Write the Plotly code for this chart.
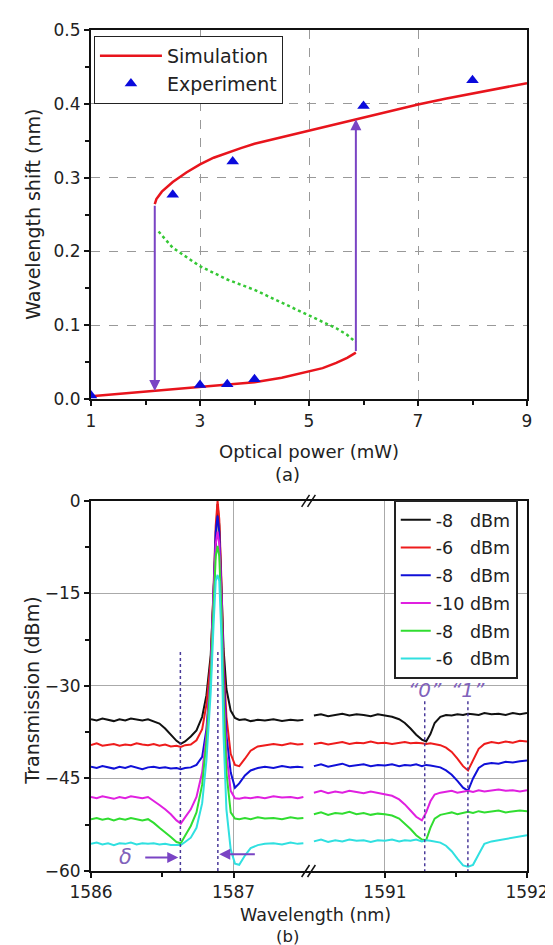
import plotly.graph_objects as go

# ---------------- panel (a) data ----------------
SIM_UP_P = [2.17, 2.2, 2.3, 2.4, 2.5, 2.75, 3.0, 3.25, 3.5, 3.75, 4.0, 4.5, 5.0, 5.5, 6.0, 6.5, 7.0, 7.5, 8.0, 8.5, 9.0]
SIM_UP_S = [0.264, 0.271, 0.281, 0.288, 0.294, 0.307, 0.318, 0.327, 0.334, 0.340, 0.346, 0.355, 0.364, 0.373, 0.382, 0.391, 0.399, 0.407, 0.414, 0.421, 0.428]
SIM_LO_P = [1.0, 1.5, 2.0, 2.5, 3.0, 3.5, 4.0, 4.5, 5.0, 5.25, 5.5, 5.7, 5.86]
SIM_LO_S = [0.004, 0.007, 0.010, 0.013, 0.016, 0.019, 0.023, 0.029, 0.037, 0.042, 0.049, 0.056, 0.063]
UNST_P = [2.24, 2.5, 3.0, 3.5, 4.0, 4.5, 5.0, 5.5, 5.7, 5.86]
UNST_S = [0.227, 0.205, 0.180, 0.162, 0.148, 0.131, 0.114, 0.096, 0.087, 0.077]
EXP_P = [1.0, 2.5, 3.0, 3.5, 3.6, 4.0, 6.0, 8.0]
EXP_S = [0.005, 0.277, 0.019, 0.020, 0.322, 0.027, 0.397, 0.432]
JUMP_P = [2.17, 5.86]
JUMP_FROM = [0.264, 0.063]
JUMP_TO = [0.011, 0.379]

# ---------------- panel (b) data ----------------
LEGEND_B = ["-8\u00a0\u00a0\u00a0dBm", "-6\u00a0\u00a0\u00a0dBm", "-8\u00a0\u00a0\u00a0dBm",
            "-10\u00a0dBm", "-8\u00a0\u00a0\u00a0dBm", "-6\u00a0\u00a0\u00a0dBm"]
COLORS_B = ["#111111", "#ee1c1c", "#1010d8", "#e020e0", "#30dd30", "#30e0e0"]

WL_L = [1586.00, 1586.04, 1586.08, 1586.12, 1586.16, 1586.20, 1586.24, 1586.28, 1586.32, 1586.36,
        1586.40, 1586.44, 1586.48, 1586.52, 1586.56, 1586.60, 1586.63, 1586.66, 1586.70, 1586.74,
        1586.78, 1586.81, 1586.84, 1586.86, 1586.875, 1586.888, 1586.90, 1586.915, 1586.93, 1586.95,
        1586.98, 1587.01, 1587.04, 1587.08, 1587.12, 1587.17, 1587.22, 1587.28, 1587.34, 1587.40,
        1587.45, 1587.49]

T_BLACK_L = [-35.4, -35.6, -35.3, -35.5, -35.7, -35.4, -35.6, -35.3, -35.5, -35.6, -35.4, -35.7, -36.1,
             -36.9, -37.9, -38.9, -39.4, -39.0, -38.2, -37.2, -35.0, -31.5, -25.0, -14.0, -5.0, -0.5,
             -4.0, -14.0, -24.0, -30.5, -34.0, -35.2, -35.5, -35.4, -35.7, -35.5, -35.6, -35.4, -35.7,
             -35.5, -35.6, -35.5]
T_RED_L = [-39.6, -39.3, -39.7, -39.5, -39.4, -39.7, -39.5, -39.6, -39.3, -39.5, -39.6, -39.4, -39.7,
           -39.5, -39.8, -39.7, -39.9, -39.6, -39.5, -38.8, -37.0, -33.0, -26.0, -14.0, -4.0, 0.0,
           -3.0, -13.0, -26.0, -35.0, -41.0, -42.8, -43.0, -41.8, -40.5, -39.8, -39.6, -39.4, -39.6,
           -39.3, -39.5, -39.4]
T_BLUE_L = [-43.1, -43.3, -43.0, -43.2, -43.4, -43.1, -43.3, -43.0, -43.2, -43.5, -43.2, -43.1, -43.3,
            -43.2, -43.4, -43.3, -43.5, -43.3, -43.2, -42.8, -41.5, -37.0, -28.0, -15.0, -5.0, -2.4,
            -5.0, -15.0, -28.0, -38.0, -44.0, -46.5, -45.8, -44.5, -43.7, -43.3, -43.1, -43.3, -43.0,
            -43.2, -43.1, -43.2]
T_MAG_L = [-48.0, -48.2, -47.9, -48.1, -48.3, -48.0, -48.2, -47.9, -48.1, -48.2, -48.0, -48.6, -49.3,
           -50.0, -50.8, -51.8, -52.3, -51.3, -50.0, -48.0, -44.0, -38.0, -28.0, -15.0, -7.0, -5.0,
           -7.0, -16.0, -30.0, -41.0, -47.0, -48.2, -48.3, -48.1, -48.2, -48.0, -48.2, -47.9, -48.1,
           -48.0, -48.2, -48.0]
T_GREEN_L = [-51.6, -51.4, -51.7, -51.5, -51.8, -51.5, -51.7, -51.4, -51.6, -51.8, -51.6, -52.2, -53.0,
             -53.7, -54.5, -55.3, -55.5, -54.3, -52.7, -50.5, -46.0, -39.0, -29.0, -17.0, -9.0, -7.3,
             -9.0, -18.0, -32.0, -44.0, -50.5, -51.5, -51.6, -51.4, -51.6, -51.3, -51.5, -51.4, -51.6,
             -51.3, -51.5, -51.4]
T_CYAN_L = [-55.6, -55.4, -55.7, -55.5, -55.8, -55.5, -55.6, -55.4, -55.7, -55.5, -55.6, -55.5, -55.7,
            -55.6, -55.8, -55.8, -55.8, -55.3, -54.6, -53.0, -49.0, -42.0, -31.0, -20.0, -13.0, -12.0,
            -13.0, -22.0, -38.0, -50.0, -56.5, -58.8, -59.0, -57.5, -56.3, -55.8, -55.6, -55.5, -55.7,
            -55.4, -55.6, -55.5]

WL_R = [1590.50, 1590.55, 1590.60, 1590.65, 1590.70, 1590.75, 1590.80, 1590.85, 1590.90, 1590.95,
        1591.00, 1591.05, 1591.10, 1591.14, 1591.18, 1591.22, 1591.26, 1591.29, 1591.32, 1591.35,
        1591.39, 1591.43, 1591.47, 1591.51, 1591.55, 1591.585, 1591.62, 1591.66, 1591.70, 1591.75,
        1591.80, 1591.85, 1591.90, 1591.95, 1592.00]

T_BLACK_R = [-34.8, -34.6, -34.9, -34.7, -34.5, -34.8, -34.6, -34.7, -34.9, -34.6, -34.8, -35.0, -35.4,
             -36.0, -36.9, -37.9, -38.7, -39.0, -37.8, -36.0, -35.0, -34.7, -34.8, -34.6, -34.7, -34.5,
             -34.6, -34.7, -34.4, -34.6, -34.5, -34.7, -34.4, -34.6, -34.4]
T_RED_R = [-39.4, -39.2, -39.5, -39.3, -39.1, -39.4, -39.2, -39.3, -39.0, -39.3, -39.2, -39.4, -39.2,
           -39.1, -39.3, -39.2, -39.3, -39.4, -39.3, -39.4, -39.6, -40.0, -40.7, -41.8, -43.0, -43.7,
           -42.0, -40.2, -39.4, -39.1, -39.3, -39.0, -39.2, -38.9, -39.0]
T_BLUE_R = [-43.0, -42.7, -43.1, -42.8, -42.6, -43.0, -42.9, -42.7, -43.0, -42.8, -42.9, -42.7, -43.0,
            -42.8, -42.9, -42.7, -43.0, -42.8, -42.9, -43.0, -43.2, -43.7, -44.4, -45.4, -46.5, -47.0,
            -45.0, -43.3, -42.7, -42.5, -42.6, -42.3, -42.4, -42.2, -42.1]
T_MAG_R = [-47.3, -47.0, -47.4, -47.1, -47.3, -47.0, -47.2, -47.4, -47.1, -47.3, -47.5, -47.8, -48.4,
           -49.2, -50.2, -51.2, -51.8, -50.5, -48.7, -47.6, -47.3, -47.2, -47.0, -47.3, -47.1, -47.0,
           -47.2, -46.9, -47.1, -47.0, -46.8, -47.0, -46.9, -47.1, -46.9]
T_GREEN_R = [-50.8, -50.5, -50.9, -50.6, -50.7, -50.4, -50.8, -50.6, -50.9, -50.7, -50.8, -51.0, -51.5,
             -52.3, -53.2, -54.2, -54.9, -55.0, -53.0, -51.5, -50.9, -50.7, -50.5, -50.8, -50.6, -50.4,
             -50.6, -50.3, -50.5, -50.4, -50.2, -50.5, -50.3, -50.2, -50.3]
T_CYAN_R = [-55.2, -54.9, -55.3, -55.0, -55.2, -54.9, -55.1, -55.0, -55.3, -55.0, -55.1, -54.9, -55.2,
            -55.0, -55.1, -54.9, -55.2, -55.0, -55.1, -55.2, -55.4, -55.9, -56.8, -58.0, -59.1, -59.3,
            -59.0, -57.3, -55.6, -55.2, -55.0, -54.8, -54.6, -54.4, -54.2]

SPEC_L = [T_BLACK_L, T_RED_L, T_BLUE_L, T_MAG_L, T_GREEN_L, T_CYAN_L]
SPEC_R = [T_BLACK_R, T_RED_R, T_BLUE_R, T_MAG_R, T_GREEN_R, T_CYAN_R]

RES_L = [1586.627, 1586.89]       # dotted marker lines, left segment
RES_R = [1591.28, 1591.584]       # dotted marker lines ("0", "1"), right segment
STATE_LABELS = ["\u201c0\u201d", "\u201c1\u201d"]
DELTA_ARROW_WL = [1586.37, 1587.16]  # tails of the two delta arrows
DELTA_LEVEL = [-57.8, -57.3]

# ---------------- styling ----------------
FONT = "DejaVu Sans"
TXT = "#222222"
PURPLE = "#7a44c4"
PURPLE_T = "#8062bb"
W, H = 553, 945
ML, MR, MT, MB = 83, 25, 20, 82
PW, PH = W - ML - MR, H - MT - MB

def px_x(p):
    return (p - ML) / PW

def px_y(p):
    return (H - MB - p) / PH

BREAK = px_x(305)
RANGE_L = [1586.0, 1587.526]
RANGE_R = [1590.462, 1592.0]

fig = go.Figure()

# ---- (a) ----
fig.add_trace(go.Scatter(x=SIM_LO_P + [None] + SIM_UP_P, y=SIM_LO_S + [None] + SIM_UP_S,
                         mode="lines", line=dict(color="#e8141c", width=2.5),
                         name="Simulation", xaxis="x", yaxis="y", legend="legend"))
fig.add_trace(go.Scatter(x=UNST_P, y=UNST_S, mode="lines",
                         line=dict(color="#35c835", width=2.5, dash="dot"),
                         showlegend=False, xaxis="x", yaxis="y"))
fig.add_trace(go.Scatter(x=EXP_P, y=EXP_S, mode="markers",
                         marker=dict(symbol="triangle-up", size=11, color="#0a0adc"),
                         name="Experiment", xaxis="x", yaxis="y", legend="legend"))

# ---- (b) ----
for i in range(6):
    fig.add_trace(go.Scatter(x=WL_L, y=SPEC_L[i], mode="lines",
                             line=dict(color=COLORS_B[i], width=2),
                             name=LEGEND_B[i], legend="legend2", legendgroup="g%d" % i,
                             xaxis="x2", yaxis="y2"))
    fig.add_trace(go.Scatter(x=WL_R, y=SPEC_R[i], mode="lines",
                             line=dict(color=COLORS_B[i], width=2),
                             showlegend=False, legendgroup="g%d" % i,
                             xaxis="x3", yaxis="y3"))

annotations = []
# jump arrows in (a)
for p, a, b in zip(JUMP_P, JUMP_FROM, JUMP_TO):
    annotations.append(dict(x=p, y=b, ax=p, ay=a, xref="x", yref="y", axref="x", ayref="y",
                            showarrow=True, arrowhead=2, arrowsize=1.1, arrowwidth=2,
                            arrowcolor=PURPLE, text=""))
# delta arrows in (b)
annotations.append(dict(x=RES_L[0] - 0.015, y=DELTA_LEVEL[0], ax=DELTA_ARROW_WL[0], ay=DELTA_LEVEL[0],
                        xref="x2", yref="y2", axref="x2", ayref="y2", showarrow=True,
                        arrowhead=2, arrowsize=1.1, arrowwidth=2, arrowcolor=PURPLE, text=""))
annotations.append(dict(x=RES_L[1] + 0.01, y=DELTA_LEVEL[1], ax=DELTA_ARROW_WL[1], ay=DELTA_LEVEL[1],
                        xref="x2", yref="y2", axref="x2", ayref="y2", showarrow=True,
                        arrowhead=2, arrowsize=1.1, arrowwidth=2, arrowcolor=PURPLE, text=""))
annotations.append(dict(x=DELTA_ARROW_WL[0] - 0.13, y=DELTA_LEVEL[0], xref="x2", yref="y2",
                        text="<i>\u03b4</i>", showarrow=False, xanchor="center", yanchor="middle",
                        font=dict(family=FONT, size=21, color=PURPLE_T)))
for wl, lab in zip(RES_R, STATE_LABELS):
    annotations.append(dict(x=wl, y=-30.6, xref="x3", yref="y3", text="<i>%s</i>" % lab,
                            showarrow=False, xanchor="center", yanchor="middle",
                            font=dict(family=FONT, size=20, color=PURPLE_T)))

# titles
def title_ann(text, xp, yp, size=18, angle=0):
    return dict(x=px_x(xp), y=px_y(yp), xref="paper", yref="paper", text=text,
                xanchor="center", yanchor="middle", textangle=angle, showarrow=False,
                font=dict(family=FONT, size=size, color=TXT))

annotations += [
    title_ann("Optical power (mW)", 306, 443),
    title_ann("(a)", 284, 466),
    title_ann("Wavelength (nm)", 312, 907, size=17.5),
    title_ann("(b)", 284, 929, size=16.5),
    title_ann("Wavelength shift (nm)", 23, 205, size=19, angle=-90),
    title_ann("Transmission (dBm)", 23, 682, size=19, angle=-90),
]

shapes = []
# dotted marker lines
for wl in RES_L:
    shapes.append(dict(type="line", xref="x2", yref="y2", x0=wl, x1=wl, y0=-24.5, y1=-60,
                       line=dict(color="#4a3a9a", width=1.5, dash="dot")))
for wl in RES_R:
    shapes.append(dict(type="line", xref="x3", yref="y3", x0=wl, x1=wl, y0=-32.5, y1=-60,
                       line=dict(color="#4a3a9a", width=1.5, dash="dot")))
# axis-break marks
for ypix in (492, 863):
    for dx in (-3, 3):
        shapes.append(dict(type="line", xref="paper", yref="paper",
                           x0=px_x(305 + dx - 4), y0=px_y(ypix + 6),
                           x1=px_x(305 + dx + 4), y1=px_y(ypix - 6),
                           line=dict(color="#111", width=1.5)))

axis_common = dict(showline=True, linecolor="#111", linewidth=2, ticks="outside", ticklen=5,
                   tickwidth=1.5, tickcolor="#111", zeroline=False,
                   tickfont=dict(family=FONT, size=17, color=TXT))

fig.update_layout(
    width=W, height=H, margin=dict(l=ML, r=MR, t=MT, b=MB, pad=0),
    paper_bgcolor="white", plot_bgcolor="white",
    font=dict(family=FONT, size=18, color=TXT),
    xaxis=dict(domain=[0, 1], anchor="y", range=[1, 9], tick0=1, dtick=2, mirror=True,
               showgrid=True, gridcolor="#999", griddash="dash", gridwidth=1,
               minor=dict(ticks="outside", ticklen=4, dtick=1, tick0=1, tickcolor="#111"),
               **axis_common),
    yaxis=dict(domain=[px_y(390), 1], anchor="x", range=[0, 0.5], dtick=0.1, tickformat=".1f",
               mirror=True, showgrid=True, gridcolor="#999", griddash="dash", gridwidth=1,
               minor=dict(ticks="outside", ticklen=4, dtick=0.05, tickcolor="#111"),
               **axis_common),
    xaxis2=dict(domain=[0, BREAK], anchor="y2", range=RANGE_L, tick0=1586, dtick=1, mirror=True,
                showgrid=True, gridcolor="#aaa", gridwidth=1,
                minor=dict(ticks="outside", ticklen=4, tickvals=[1586.5], tickcolor="#111"),
                **axis_common),
    xaxis3=dict(domain=[BREAK, 1], anchor="y3", range=RANGE_R, tick0=1591, dtick=1, mirror=True,
                showgrid=True, gridcolor="#aaa", gridwidth=1,
                minor=dict(ticks="outside", ticklen=4, tickvals=[1591.5], tickcolor="#111"),
                **axis_common),
    yaxis2=dict(domain=[0, px_y(492)], anchor="x2", range=[-60, 0], dtick=15,
                showgrid=True, gridcolor="#aaa", gridwidth=1,
                minor=dict(ticks="outside", ticklen=4, dtick=7.5, tickcolor="#111"),
                **axis_common),
    yaxis3=dict(domain=[0, px_y(492)], anchor="x3", range=[-60, 0], dtick=15, side="right",
                showline=True, linecolor="#111", linewidth=2, ticks="", showticklabels=False,
                showgrid=True, gridcolor="#aaa", gridwidth=1, zeroline=False),
    legend=dict(x=px_x(86), y=px_y(26), xanchor="left", yanchor="top",
                bgcolor="white", bordercolor="#222", borderwidth=1,
                font=dict(family=FONT, size=19, color=TXT), itemwidth=62),
    legend2=dict(x=px_x(392), y=px_y(491), xanchor="left", yanchor="top",
                 bgcolor="white", bordercolor="#222", borderwidth=2, tracegroupgap=2,
                 font=dict(family=FONT, size=17.5, color=TXT), itemwidth=30),
    annotations=annotations, shapes=shapes,
)

fig.write_html("out.html")
